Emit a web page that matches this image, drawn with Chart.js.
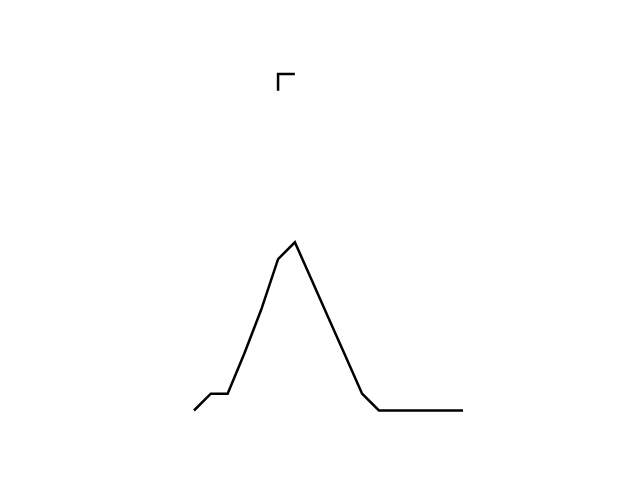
<!DOCTYPE html>
<html>
<head>
<meta charset="utf-8">
<script src="https://cdn.jsdelivr.net/npm/chart.js@4"></script>
<style>
html,body{margin:0;padding:0;background:#fff;}
#wrap{width:640px;height:480px;}
</style>
</head>
<body>
<div id="wrap"><canvas id="c" width="640" height="480"></canvas></div>
<script>
const xPositions = [0,1,2,3,4,5,6,7,8,9,10,11,12,13,14,15,16];
const mainValues = [0,1,1,3.4,6,9,10,7.75,5.5,3.25,1,0,0,0,0,0,0];
const topX = [5,5,6];
const topValues = [19,20,20];

const mainData = xPositions.map((x,i)=>({x:x,y:mainValues[i]}));
const topData = topX.map((x,i)=>({x:x,y:topValues[i]}));

new Chart(document.getElementById('c'), {
  type: 'line',
  data: {
    datasets: [
      {data: mainData, borderColor:'#000', borderWidth:2.5, pointRadius:0, tension:0, fill:false, clip:false},
      {data: topData, borderColor:'#000', borderWidth:2.5, pointRadius:0, tension:0, fill:false, clip:false}
    ]
  },
  options: {
    responsive:false,
    animation:false,
    layout:{padding:{left:194,right:177,top:74,bottom:69.5}},
    plugins:{legend:{display:false},tooltip:{enabled:false}},
    scales:{
      x:{type:'linear',min:0,max:16,display:false},
      y:{type:'linear',min:0,max:20,display:false}
    }
  }
});
</script>
</body>
</html>
